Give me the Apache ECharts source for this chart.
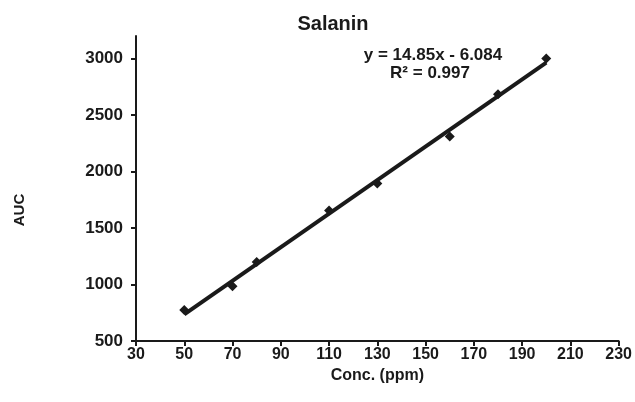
<!DOCTYPE html>
<html>
<head>
<meta charset="utf-8">
<script src="https://cdn.jsdelivr.net/npm/echarts@6/dist/echarts.min.js"></script>
<style>
  html, body { margin: 0; padding: 0; background: #fff; }
  #salanin_chart { width: 635px; height: 402px; }
</style>
</head>
<body>
<div id="salanin_chart"></div>
<script>
// concentration (ppm) and measured AUC
var conc = [50, 70, 80, 110, 130, 160, 180, 200];
var auc = [775, 985, 1200, 1655, 1895, 2310, 2685, 3000];
// linear trend line end points
var trendX = [50, 200];
var trendY = [736, 2964];
var yTicks = [500, 1000, 1500, 2000, 2500, 3000];

var fontFamily = '"Liberation Sans", Arial, sans-serif';
var ink = '#1a1a1a';

var chart = echarts.init(document.getElementById('salanin_chart'));

var points = conc.map(function (c, i) { return [c, auc[i]]; });
var trend = trendX.map(function (c, i) { return [c, trendY[i]]; });

var option = {
  backgroundColor: '#fff',
  animation: false,
  title: {
    text: 'Salanin',
    left: 328,
    top: 9,
    textAlign: 'center',
    textStyle: { fontFamily: fontFamily, fontSize: 20, fontWeight: 'bold', color: ink }
  },
  grid: { left: 136, right: 16, top: 36, bottom: 61 },
  xAxis: {
    type: 'value',
    min: 30,
    max: 230,
    interval: 20,
    name: 'Conc. (ppm)',
    nameLocation: 'middle',
    nameGap: 26,
    nameTextStyle: { fontFamily: fontFamily, fontSize: 16, fontWeight: 'bold', color: ink },
    axisLine: { lineStyle: { color: ink, width: 2 } },
    axisTick: { inside: false, length: 5, lineStyle: { color: ink, width: 2 } },
    axisLabel: { fontFamily: fontFamily, fontSize: 16, fontWeight: 'bold', color: ink, margin: 6 },
    splitLine: { show: false }
  },
  yAxis: {
    type: 'value',
    min: 500,
    max: 3200,
    interval: 500,
    axisLine: { show: true, lineStyle: { color: ink, width: 2 } },
    axisTick: { show: true, length: 5, customValues: yTicks, lineStyle: { color: ink, width: 2 } },
    axisLabel: {
      fontFamily: fontFamily, fontSize: 17, fontWeight: 'bold', color: ink, margin: 13,
      customValues: yTicks,
      formatter: function (v) { return String(v); }
    },
    splitLine: { show: false }
  },
  graphic: [
    {
      type: 'text',
      x: 20,
      y: 210,
      rotation: Math.PI / 2,
      style: {
        text: 'AUC', font: 'bold 15px ' + fontFamily, fill: ink,
        align: 'center', verticalAlign: 'middle'
      }
    },
    {
      type: 'text',
      x: 433,
      y: 55,
      style: {
        text: 'y = 14.85x - 6.084', font: 'bold 17px ' + fontFamily, fill: ink,
        align: 'center', verticalAlign: 'middle'
      }
    },
    {
      type: 'text',
      x: 430,
      y: 73,
      style: {
        text: 'R² = 0.997', font: 'bold 17px ' + fontFamily, fill: ink,
        align: 'center', verticalAlign: 'middle'
      }
    }
  ],
  series: [
    {
      name: 'AUC',
      type: 'scatter',
      symbol: 'diamond',
      symbolSize: 10,
      itemStyle: { color: ink, opacity: 1 },
      data: points,
      z: 2
    },
    {
      name: 'Linear',
      type: 'line',
      symbol: 'none',
      lineStyle: { color: ink, width: 4 },
      data: trend,
      z: 3
    }
  ]
};

chart.setOption(option);
window.addEventListener('resize', function () {
  chart.resize();
});
</script>
</body>
</html>
